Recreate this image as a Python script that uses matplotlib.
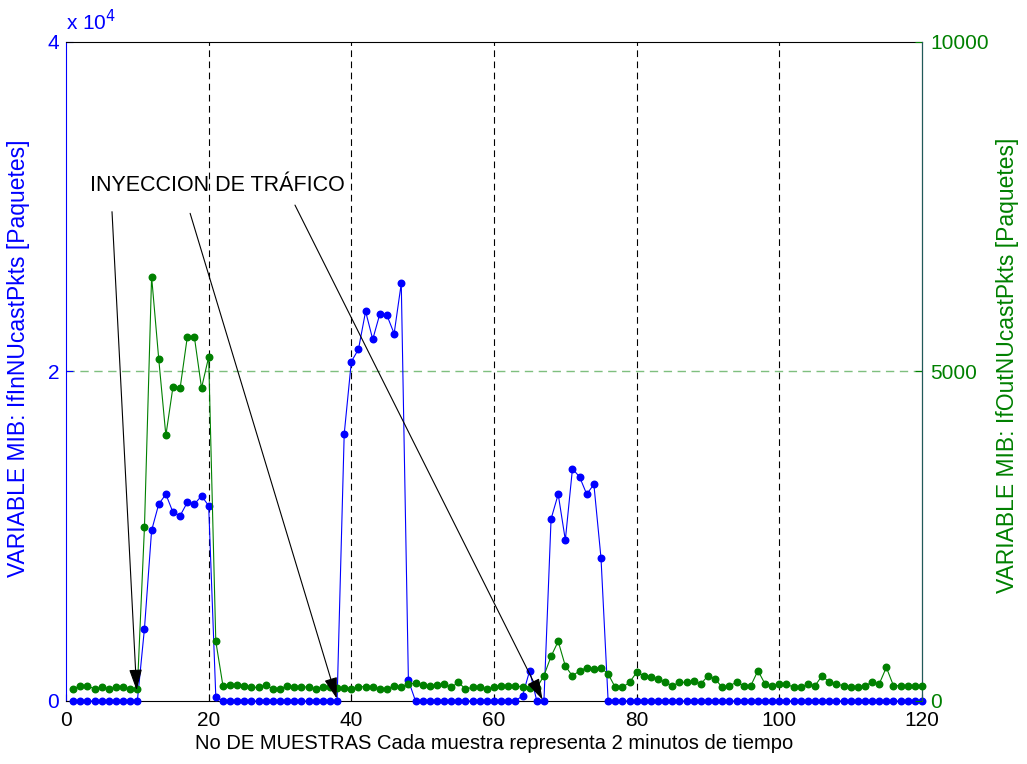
import matplotlib
matplotlib.use("Agg")
import matplotlib.pyplot as plt
import numpy as np

plt.rcParams['font.family'] = ['Liberation Sans', 'DejaVu Sans']

muestras = list(range(1, 121))

in_pkts = ([0]*10 +
           [4400, 10350, 11950, 12550, 11450, 11250, 12050, 11950, 12450, 11850, 260] +
           [0]*17 +
           [16200, 20600, 21350, 23650, 21950, 23500, 23400, 22300, 25350, 1250] +
           [0]*15 +
           [320, 1840, 0, 0, 11050, 12550, 9770, 14100, 13600, 12550, 13150, 8680] +
           [0]*45)

out_pkts = [182, 232, 232, 182, 207, 182, 207, 207, 182, 182,
            2640, 6440, 5190, 4030, 4770, 4750, 5520, 5520, 4750, 5220, 905,
            232, 243, 243, 232, 207, 207, 243, 182, 182, 232, 207, 207, 217, 182, 217, 217, 200,
            190, 182, 217, 217, 217, 182, 182, 232, 212, 262, 270, 240, 232, 240, 258, 207, 283,
            182, 207, 207, 182, 207, 232, 232, 232, 212, 200, 200, 384, 678, 905, 531, 379, 460,
            505, 481, 505, 410, 207, 207, 283, 435, 384, 359, 334, 283, 232, 283, 283, 308, 258,
            384, 334, 207, 232, 283, 232, 232, 460, 258, 232, 258, 258, 207, 207, 258, 232, 384,
            283, 258, 232, 207, 207, 232, 283, 258, 510, 232, 232, 232, 232, 232]

x_ticks = [0, 20, 40, 60, 80, 100, 120]
left_ticks = [0, 20000, 40000]
left_labels = ['0', '2', '4']
right_ticks = [0, 5000, 10000]
right_labels = ['0', '5000', '10000']

annot_text = 'INYECCION DE TRÁFICO'
arrow_starts = [(6.45, 29700), (17.4, 29600), (32.1, 30100)]
arrow_tips = [(9.9, 650), (37.95, 150), (66.8, 80)]

BLUE = '#0000ff'
GREEN = '#008000'
FS_TICK = 15
FS_XLABEL = 14.5
FS_YLABEL = 16.5

fig = plt.figure(figsize=(10.27, 7.64), dpi=100)
ax1 = fig.add_axes([66/1027, 1 - 701/764, (922-66)/1027, (701-42)/764])
ax2 = ax1.twinx()

ax1.plot(muestras, in_pkts, '-o', color=BLUE, lw=0.8, ms=4.7, clip_on=False, zorder=3)
ax2.plot(muestras, out_pkts, '-o', color=GREEN, lw=0.8, ms=4.7, clip_on=False, zorder=3)

ax1.set_xlim(0, 120)
ax1.set_ylim(0, 40000)
ax2.set_ylim(0, 10000)

ax1.set_xticks(x_ticks)
ax1.set_xticklabels([str(t) for t in x_ticks], fontsize=FS_TICK)
ax1.set_yticks(left_ticks)
ax1.set_yticklabels(left_labels, fontsize=FS_TICK, color=BLUE)
ax2.set_yticks(right_ticks)
ax2.set_yticklabels(right_labels, fontsize=FS_TICK, color=GREEN)

ax1.tick_params(axis='x', direction='in', length=5, width=0.8, pad=7)
ax1.tick_params(axis='y', direction='in', length=5, width=0.8, colors=BLUE, pad=5)
ax2.tick_params(axis='y', direction='in', length=5, width=0.8, colors=GREEN, pad=6)

# grid
for xv in x_ticks[1:-1]:
    ax1.axvline(xv, color='k', lw=0.8, ls=(0, (6, 4)), zorder=1)
ax1.axhline(20000, color='#7fbf7f', lw=1.0, ls=(0, (6, 4)), zorder=1)

for sp in ['top', 'bottom']:
    ax1.spines[sp].set_color('k')
    ax1.spines[sp].set_linewidth(0.8)
ax1.spines['left'].set_color(BLUE)
ax1.spines['left'].set_linewidth(0.8)
ax2.spines['right'].set_color('#1f5a5a')
ax2.spines['right'].set_linewidth(0.8)
ax2.spines['left'].set_visible(False)
ax2.spines['top'].set_visible(False)
ax2.spines['bottom'].set_visible(False)

ax1.set_xlabel('No DE MUESTRAS Cada muestra representa 2 minutos de tiempo', fontsize=FS_XLABEL, labelpad=3)
ax1.set_ylabel('VARIABLE MIB: IfInNUcastPkts [Paquetes]', fontsize=FS_YLABEL, color=BLUE)
ax2.set_ylabel('VARIABLE MIB: IfOutNUcastPkts [Paquetes]', fontsize=FS_YLABEL, color=GREEN)
ax1.yaxis.set_label_coords(-0.042, 0.52)
ax2.yaxis.set_label_coords(1.086, 0.51)

ax1.text(0.0, 1.012, r'x 10$^4$', transform=ax1.transAxes, fontsize=FS_TICK, color=BLUE,
         ha='left', va='bottom')

ax2.set_zorder(ax1.get_zorder() + 1)
ax2.patch.set_visible(False)

# annotations drawn on the top axes (converted to right-axis units)
ax2.text(3.4, 31300 / 4, annot_text, fontsize=15.5, color='k', ha='left', va='center', zorder=6)
for (sx, sy), (tx, ty) in zip(arrow_starts, arrow_tips):
    ax2.annotate('', xy=(tx, ty / 4), xytext=(sx, sy / 4),
                 arrowprops=dict(arrowstyle='-|>,head_length=0.65,head_width=0.2',
                                 mutation_scale=20, color='k', lw=0.8,
                                 shrinkA=0, shrinkB=0), zorder=6)

fig.savefig('out.png', dpi=100)
